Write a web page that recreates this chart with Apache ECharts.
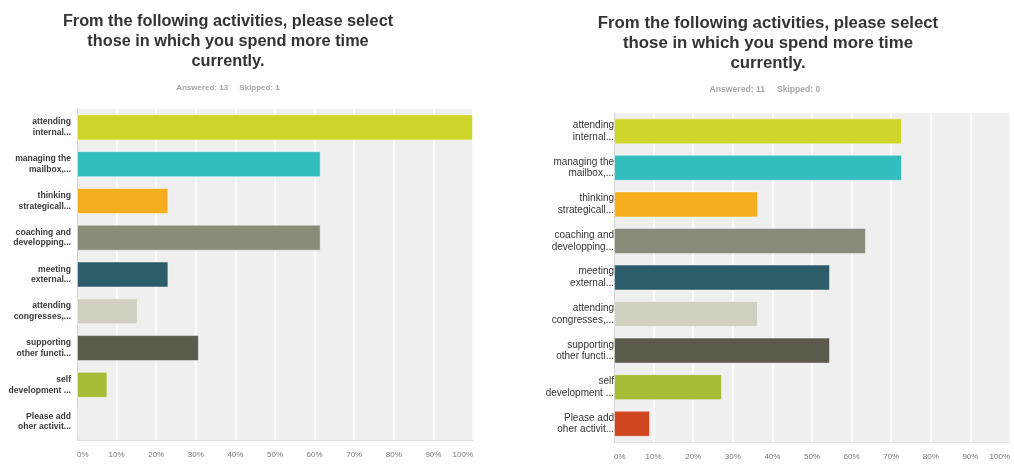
<!DOCTYPE html>
<html>
<head>
<meta charset="utf-8">
<script src="https://cdn.jsdelivr.net/npm/echarts@6/dist/echarts.min.js"></script>
<style>
  html, body { margin: 0; padding: 0; background: #fff; }
  .panel { position: absolute; top: 0; width: 507px; height: 464px; }
  #left { left: 0; }
  #right { left: 507px; filter: blur(0.7px); }
</style>
</head>
<body>
<div id="left" class="panel"></div>
<div id="right" class="panel"></div>
<script>
// Survey question and answer options (labels shortened as in the survey report)
const questionText = 'From the following activities, please select\nthose in which you spend more time\ncurrently.';
const categories = [
  'attending\ninternal...',
  'managing the\nmailbox,...',
  'thinking\nstrategicall...',
  'coaching and\ndevelopping...',
  'meeting\nexternal...',
  'attending\ncongresses,...',
  'supporting\nother functi...',
  'self\ndevelopment ...',
  'Please add\noher activit...'
];
// Share of respondents (%) choosing each activity
const firstValues  = [100, 61.54, 23.08, 61.54, 23.08, 15.38, 30.77, 7.69, 0];
const secondValues = [72.73, 72.73, 36.36, 63.64, 54.55, 36.36, 54.55, 27.27, 9.09];
const firstStats  = 'Answered: 13     Skipped: 1';
const secondStats = 'Answered: 11     Skipped: 0';
const tickMin = 0, tickMax = 100, tickStep = 10;

const barColors = ['#cfd42a', '#33bdbf', '#f6ae1f', '#8a8a78', '#2e5d6a',
                   '#d0cfc0', '#5b5a4b', '#a6bc38', '#d0461f'];
const FONT = '"Liberation Sans", Arial, sans-serif';

function buildOption(values, stats, cfg) {
  return {
    animation: false,
    graphic: [
      {
        type: 'text', x: cfg.titleX, y: cfg.titleY,
        style: {
          text: questionText, fill: '#333', textAlign: 'center', textVerticalAlign: 'top',
          fontFamily: FONT, fontSize: cfg.titleSize, fontWeight: 'bold', lineHeight: 20
        }
      },
      {
        type: 'text', x: cfg.statsX, y: cfg.statsY,
        style: {
          text: stats, fill: '#a6a6a6', textAlign: 'center', textVerticalAlign: 'middle',
          fontFamily: FONT, fontSize: cfg.statsSize, fontWeight: 'bold'
        }
      }
    ],
    grid: {
      left: cfg.gridLeft, width: 396, top: cfg.gridTop, height: cfg.gridHeight,
      show: true, backgroundColor: '#efefef', borderWidth: 0
    },
    xAxis: {
      type: 'value', min: tickMin, max: tickMax, interval: tickStep,
      axisLine: { show: true, lineStyle: { color: '#e2e2e2', width: 1 } },
      axisTick: { show: false },
      splitLine: { show: true, lineStyle: { color: '#ffffff', width: 1.5 } },
      axisLabel: {
        formatter: '{value}%', color: '#777', fontFamily: FONT, fontSize: 8,
        margin: cfg.tickMargin, alignMinLabel: 'left', alignMaxLabel: 'right'
      }
    },
    yAxis: {
      type: 'category', data: categories, inverse: true,
      axisLine: { show: true, lineStyle: { color: '#d4d4d4', width: 1 } },
      axisTick: { show: false },
      splitLine: { show: false },
      axisLabel: {
        color: cfg.labelColor, fontFamily: FONT, fontSize: cfg.labelSize,
        fontWeight: cfg.labelWeight, lineHeight: cfg.labelLine, margin: cfg.labelMargin,
        align: 'right'
      }
    },
    series: [{
      type: 'bar',
      data: values,
      barWidth: 26,
      itemStyle: {
        color: p => barColors[p.dataIndex],
        borderColor: 'rgba(255,255,255,0.45)', borderWidth: 1
      }
    }]
  };
}

const leftChart = echarts.init(document.getElementById('left'), null, { renderer: 'canvas' });
leftChart.setOption(buildOption(firstValues, firstStats, {
  titleX: 228, titleY: 12, titleSize: 16.3,
  statsX: 228, statsY: 88, statsSize: 8,
  gridLeft: 77, gridTop: 109, gridHeight: 331,
  tickMargin: 11, labelSize: 8.6, labelWeight: 'bold', labelLine: 10.7, labelMargin: 6,
  labelColor: '#3a3a3a'
}));

const rightChart = echarts.init(document.getElementById('right'), null, { renderer: 'canvas' });
rightChart.setOption(buildOption(secondValues, secondStats, {
  titleX: 261, titleY: 13.5, titleSize: 16.8,
  statsX: 258, statsY: 90, statsSize: 8.6,
  gridLeft: 107, gridTop: 113, gridHeight: 329,
  tickMargin: 11, labelSize: 10, labelWeight: 'normal', labelLine: 11.7, labelMargin: 0,
  labelColor: '#333'
}));
</script>
</body>
</html>
